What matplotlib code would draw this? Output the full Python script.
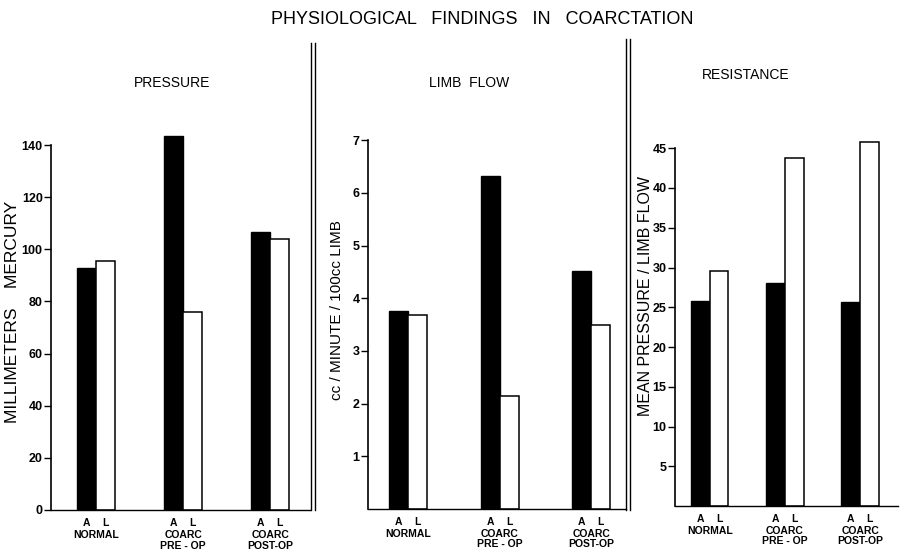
import matplotlib
matplotlib.use("Agg")
import matplotlib.pyplot as plt
from matplotlib.lines import Line2D

# Data
groups = ["NORMAL", "COARC\nPRE - OP", "COARC\nPOST-OP"]
pressure_A = [93, 143.5, 106.5]
pressure_L = [95.5, 76, 104]
flow_A = [3.76, 6.32, 4.52]
flow_L = [3.68, 2.15, 3.49]
resist_A = [25.8, 28.0, 25.7]
resist_L = [29.6, 43.8, 45.8]

pressure_ticks = [0, 20, 40, 60, 80, 100, 120, 140]
flow_ticks = [1, 2, 3, 4, 5, 6, 7]
resist_ticks = [5, 10, 15, 20, 25, 30, 35, 40, 45]

W, H = 910, 549
fig = plt.figure(figsize=(W / 100, H / 100), dpi=100)
fig.patch.set_facecolor("white")
plt.rcParams['font.family'] = ['Liberation Sans', 'DejaVu Sans']


def px_axes(left, right, bottom, top):
    return fig.add_axes([left / W, 1 - bottom / H, (right - left) / W, (bottom - top) / H])


def panel(ax, a_vals, l_vals, ticks, ymax, xlim, width, ylabel, ylabel_x, ylabel_y, ylabel_size):
    x = list(range(len(a_vals)))
    ax.bar(x, a_vals, width=-width, align='edge', color='black', edgecolor='black', linewidth=1)
    ax.bar(x, l_vals, width=width, align='edge', color='white', edgecolor='black', linewidth=1.1)
    ax.set_xlim(*xlim)
    ax.set_ylim(0, ymax)
    ax.set_yticks(ticks)
    ax.set_yticklabels([str(t) for t in ticks], fontsize=9, fontweight='bold')
    ax.tick_params(axis='y', direction='out', length=5, width=1, pad=1)
    ax.set_xticks([])
    for s in ['top', 'right']:
        ax.spines[s].set_visible(False)
    ax.spines['left'].set_bounds(0, ticks[-1])
    ax.spines['left'].set_linewidth(1.2)
    ax.spines['bottom'].set_linewidth(1.0)
    ax.set_facecolor('none')
    tr = ax.get_xaxis_transform()
    for i, g in enumerate(groups):
        ax.text(i - width / 2, -0.02, "A", transform=tr, ha='center', va='top',
                fontsize=7.5, fontweight='bold')
        ax.text(i + width / 2, -0.02, "L", transform=tr, ha='center', va='top',
                fontsize=7.5, fontweight='bold')
        ax.text(i, -0.053, g, transform=tr, ha='center', va='top',
                fontsize=7.5, fontweight='bold', linespacing=1.05)
    fig.text(ylabel_x / W, 1 - ylabel_y / H, ylabel, rotation=90, ha='center', va='center',
             fontsize=ylabel_size)


ax1 = px_axes(51, 310, 510, 130)
panel(ax1, pressure_A, pressure_L, pressure_ticks, 380 / 2.607, (-0.52, 2.46), 0.22,
      "MILLIMETERS    MERCURY", 13, 312, 12.5)

ax2 = px_axes(368, 626, 509, 130)
panel(ax2, flow_A, flow_L, flow_ticks, 379 / 52.7, (-0.44, 2.38), 0.21,
      "cc / MINUTE / 100cc LIMB", 337, 310, 11)

ax3 = px_axes(675, 898, 506, 130)
panel(ax3, resist_A, resist_L, resist_ticks, 376 / 7.95, (-0.46, 2.5), 0.25,
      "MEAN PRESSURE / LIMB FLOW", 645, 296, 11.5)

# Titles
fig.text(482 / W, 1 - 20 / H, "PHYSIOLOGICAL   FINDINGS   IN   COARCTATION",
         ha='center', va='center', fontsize=13)
fig.text(172 / W, 1 - 83 / H, "PRESSURE", ha='center', va='center', fontsize=10)
fig.text(469 / W, 1 - 83 / H, "LIMB  FLOW", ha='center', va='center', fontsize=10)
fig.text(746 / W, 1 - 75 / H, "RESISTANCE", ha='center', va='center', fontsize=10)

# Double divider lines between panels
for xc, top in [(313, 43), (628, 39)]:
    for dx in (-1.8, 1.8):
        fig.add_artist(Line2D([(xc + dx) / W] * 2, [1 - top / H, 1 - 510 / H],
                              color='black', linewidth=1.0))

fig.savefig("out.png", dpi=100, facecolor='white')
